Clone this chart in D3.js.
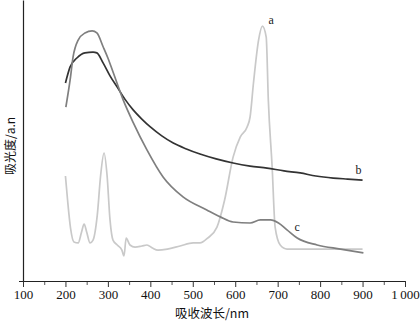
<!DOCTYPE html>
<html>
<head>
<meta charset="utf-8">
<script src="https://cdn.jsdelivr.net/npm/d3@7"></script>
<style>
  html, body { margin: 0; padding: 0; background: #fff; }
  svg { display: block; }
</style>
</head>
<body>
<svg id="chart" width="420" height="326"></svg>
<script>
// Absorption spectra: wavelength (nm) vs absorbance (arbitrary units)
const xTicks = [100, 200, 300, 400, 500, 600, 700, 800, 900, 1000];
const xMinorTicks = [150, 250, 350, 450, 550, 650, 750, 850, 950];

const waveA = [200,205,212,220,230,238,244,250,258,265,275,283,291,298,305,312,322,333,338,343,352,364,380,392,405,418,440,470,501,517,535,557,575,595,612,628,635,643,655,664,673,678,687,694,706,722,760,900];
const absA  = [0.411,0.317,0.207,0.153,0.149,0.192,0.223,0.192,0.149,0.160,0.258,0.415,0.501,0.415,0.239,0.160,0.141,0.121,0.098,0.168,0.141,0.133,0.137,0.141,0.129,0.121,0.125,0.137,0.149,0.149,0.168,0.211,0.317,0.485,0.564,0.603,0.642,0.775,0.943,0.998,0.955,0.708,0.446,0.211,0.141,0.125,0.125,0.125];

const waveB = [200,211,227,246,265,274,289,305,322,340,360,380,400,427,454,485,517,555,595,635,675,715,753,790,831,865,900];
const absB  = [0.775,0.838,0.873,0.893,0.896,0.893,0.853,0.803,0.759,0.712,0.669,0.634,0.603,0.568,0.540,0.517,0.497,0.478,0.462,0.450,0.442,0.431,0.423,0.411,0.403,0.399,0.395];

const waveC = [201,211,218,230,246,263,274,289,300,313,336,360,392,430,477,533,565,595,635,659,683,702,722,746,793,848,902];
const absC  = [0.681,0.787,0.877,0.943,0.971,0.979,0.971,0.916,0.873,0.814,0.709,0.619,0.513,0.407,0.329,0.278,0.251,0.231,0.227,0.239,0.239,0.227,0.200,0.168,0.141,0.125,0.110];

const seriesNames = ["a", "b", "c"];
const seriesColors = ["#c9c9c9", "#333333", "#7f7f7f"];

const xTitle = "吸收波长/nm";
const yTitle = "吸光度/a.n";

const svg = d3.select("#chart");
const margin = { left: 23, right: 15, top: 0, bottom: 45 };
const W = 420, H = 326;

const x = d3.scaleLinear().domain([100, 1000]).range([margin.left, W - margin.right]);
const y = d3.scaleLinear().domain([0, 1.1]).range([H - margin.bottom, margin.top]);

const serif = "'Liberation Serif', 'Times New Roman', serif";
const cjk = "'Noto Sans CJK SC', sans-serif";

// Curves
const line = d3.line()
  .x(d => x(d[0]))
  .y(d => y(d[1]))
  .curve(d3.curveMonotoneX);

const series = [
  d3.zip(waveA, absA),
  d3.zip(waveB, absB),
  d3.zip(waveC, absC)
];

svg.append("g")
  .selectAll("path")
  .data(series)
  .join("path")
  .attr("fill", "none")
  .attr("stroke", (d, i) => seriesColors[i])
  .attr("stroke-width", 1.7)
  .attr("stroke-linejoin", "round")
  .attr("d", line);

// Curve labels
const labelPos = [
  [waveA[absA.indexOf(d3.max(absA))], d3.max(absA)],
  [waveB[waveB.length - 1], absB[absB.length - 1]],
  [waveC[21], absC[21]]
];
const labelOffsets = [[6, -2], [-7, -6], [16, 8]];
svg.append("g")
  .selectAll("text")
  .data(seriesNames)
  .join("text")
  .attr("x", (d, i) => x(labelPos[i][0]) + labelOffsets[i][0])
  .attr("y", (d, i) => y(labelPos[i][1]) + labelOffsets[i][1])
  .attr("font-family", serif)
  .attr("font-size", 12)
  .attr("fill", "#222")
  .text(d => d);

// X axis
const xAxis = svg.append("g")
  .attr("transform", `translate(0,${y(0)})`)
  .call(d3.axisBottom(x).tickValues(xTicks).tickSizeOuter(0).tickSize(6).tickPadding(3)
    .tickFormat(d => d >= 1000 ? d3.format(",")(d).replace(",", "\u2009") : d));
xAxis.select(".domain").attr("d", `M${margin.left - 4},0.5H${x(1000)}`).attr("stroke", "#222").attr("stroke-width", 1.2);
xAxis.selectAll(".tick line").attr("stroke", "#333");
xAxis.selectAll("text")
  .attr("font-family", serif)
  .attr("font-size", 13)
  .attr("fill", "#111");

const xMinor = svg.append("g")
  .attr("transform", `translate(0,${y(0)})`)
  .call(d3.axisBottom(x).tickValues(xMinorTicks).tickSize(3).tickFormat(""));
xMinor.select(".domain").remove();
xMinor.selectAll(".tick line").attr("stroke", "#555").attr("transform", "translate(0,1)");

// Y axis: plain line, no ticks
svg.append("g")
  .attr("transform", `translate(${margin.left},0)`)
  .call(d3.axisLeft(y).tickValues([]).tickSizeOuter(0))
  .select(".domain").attr("stroke", "#222").attr("stroke-width", 1.2);

// Axis titles
svg.append("text")
  .attr("x", 212)
  .attr("y", 318)
  .attr("text-anchor", "middle")
  .attr("font-family", cjk)
  .attr("font-size", 12.5)
  .attr("fill", "#111")
  .text(xTitle);

svg.append("text")
  .attr("transform", "translate(9.5,146) rotate(-90)")
  .attr("text-anchor", "middle")
  .attr("dominant-baseline", "central")
  .attr("font-family", cjk)
  .attr("font-size", 12)
  .attr("fill", "#111")
  .text(yTitle);
</script>
</body>
</html>
